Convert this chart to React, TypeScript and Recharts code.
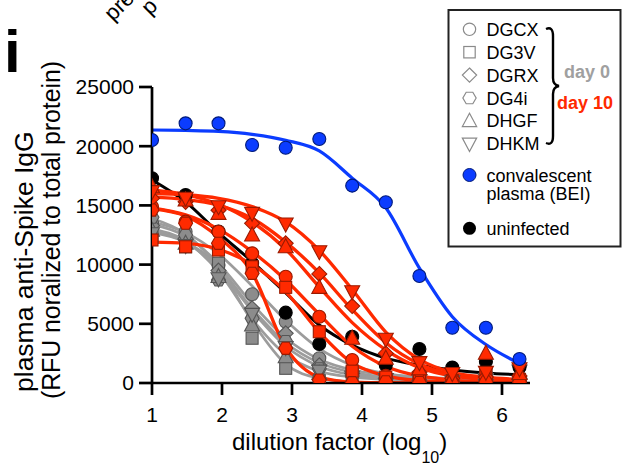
import React from "react";
import { ComposedChart, XAxis, YAxis, Line, Scatter } from "recharts";

// dilution factor (log10) positions
const X = [1, 1.48, 1.95, 2.43, 2.91, 3.39, 3.86, 4.34, 4.82, 5.29, 5.77, 6.25];
const X_TICKS = [1, 2, 3, 4, 5, 6];
const Y_TICKS = [0, 5000, 10000, 15000, 20000, 25000];

// measured points
const blue = [20520, 21930, 21930, 20100, 19870, 20610, 16670, 15260, 9040, 4670, 4670, 2030];
const black = [17290, 15880, 12800, 10110, 5940, 3290, 3900, 1500, 2870, 1300, 1800, 1330];

const rDGCX = [14890, 13630, 12780, 10950, 8980, 5600, 1940, 600, 300, 200, 250, 200];
const rDG3V = [12080, 11510, 11230, 9820, 8080, 4330, 1000, 500, 300, 200, 870, 300];
const rDGRX = [15600, 15300, 14600, 13490, 11800, 9210, 6500, 2500, 900, 400, 500, 600];
const rDG4i = [14610, 13500, 11800, 9260, 2930, 250, 30, 100, 50, 80, 100, 80];
const rDHGF = [16580, 15460, 14330, 12500, 11510, 8080, 3780, 2090, 1200, 400, 2510, 800];
const rDHKM = [16160, 15600, 14890, 14330, 13430, 11090, 7710, 3690, 1720, 800, 900, 1200];

const gDGCX = [13490, 12780, 9970, 7500, 5180, 2090, 1200, 600, 300, 200, 300, 200];
const gDG3V = [12300, 11500, 10110, 3780, 1240, 200, 100, 50, 100, 200, 800, 300];
const gDGRX = [13300, 12200, 9500, 6310, 4200, 1500, 800, 400, 200, 100, 300, 300];
const gDG4i = [14000, 12500, 8700, 5460, 3500, 1200, 600, 300, 200, 100, 200, 200];
const gDHGF = [12900, 11800, 9000, 4900, 2220, 800, 300, 200, 100, 100, 1200, 900];
const gDHKM = [12600, 11600, 8800, 5800, 3000, 1000, 500, 300, 200, 100, 300, 1000];

// fitted curves at the same positions
const fBlue = [21370, 21330, 21250, 21000, 20500, 19600, 17300, 14800, 9700, 5600, 3250, 1650];
const fBlack = [17150, 15300, 12700, 10250, 7600, 4900, 3200, 2100, 1500, 1100, 850, 700];

const fRDHKM = [16000, 15900, 15600, 14900, 13600, 11200, 7900, 4300, 2000, 900, 500, 300];
const fRDGRX = [15700, 15500, 15000, 13900, 11900, 9300, 6200, 3400, 1600, 700, 350, 200];
const fRDHGF = [16300, 15900, 15100, 13600, 11300, 8100, 5100, 2800, 1300, 600, 300, 150];
const fRDGCX = [14800, 14200, 13000, 11100, 8700, 5800, 3100, 1400, 600, 250, 100, 50];
const fRDG3V = [11900, 11800, 11300, 10000, 7700, 4300, 1700, 600, 200, 80, 30, 10];
const fRDG4i = [14700, 14100, 12300, 9300, 3000, 500, 80, 20, 0, 0, 0, 0];

const fGDGCX = [13600, 12700, 10900, 8200, 5300, 2900, 1500, 800, 500, 350, 300, 250];
const fGDG3V = [12700, 11900, 9800, 5200, 1600, 400, 100, 30, 10, 0, 0, 0];
const fGDGRX = [13400, 12400, 10100, 6700, 3800, 2000, 1100, 700, 500, 400, 350, 300];
const fGDG4i = [13900, 12600, 9900, 6300, 3400, 1700, 900, 500, 350, 300, 250, 250];
const fGDHGF = [13000, 12000, 9400, 5400, 2400, 1000, 500, 300, 200, 150, 150, 150];
const fGDHKM = [12800, 11900, 9600, 6100, 3100, 1400, 700, 400, 300, 250, 200, 200];

const SAMPLES = ["DGCX", "DG3V", "DGRX", "DG4i", "DHGF", "DHKM"];
const SHAPES = ["circle", "square", "diamond", "hexagon", "up", "down"];

const RED = "#ff2a00";
const RED_EDGE = "#9a1a00";
const GRAY = "#8c8c8c";
const GRAY_LINE = "#9c9c9c";
const GRAY_EDGE = "#555555";
const BLUE = "#0b3cff";
const BLUE_EDGE = "#001a7a";
const FONT = "'Liberation Sans', Arial, Helvetica, sans-serif";

const pts = (ys: number[]) => X.map((x, i) => ({ x, y: ys[i] }));

function markerEl(shape: string, cx: number, cy: number, fill: string, stroke: string, sw: number, k = 1) {
  const p = { fill, stroke, strokeWidth: sw };
  if (shape === "circle") return <circle cx={cx} cy={cy} r={6.5 * k} {...p} />;
  if (shape === "square") return <rect x={cx - 6 * k} y={cy - 6 * k} width={12 * k} height={12 * k} {...p} />;
  if (shape === "diamond") {
    const d = 7.5 * k;
    return <polygon points={`${cx},${cy - d} ${cx + d},${cy} ${cx},${cy + d} ${cx - d},${cy}`} {...p} />;
  }
  if (shape === "hexagon") {
    const r = 7 * k;
    const a = [];
    for (const deg of [0, 60, 120, 180, 240, 300]) {
      const t = (deg * Math.PI) / 180;
      a.push(`${cx + r * Math.cos(t)},${cy + r * Math.sin(t)}`);
    }
    return <polygon points={a.join(" ")} {...p} />;
  }
  const h = 7 * k;
  if (shape === "up")
    return <polygon points={`${cx},${cy - h - 1} ${cx + h + 0.5},${cy + h - 1} ${cx - h - 0.5},${cy + h - 1}`} {...p} />;
  return <polygon points={`${cx},${cy + h + 1} ${cx + h + 0.5},${cy - h + 1} ${cx - h - 0.5},${cy - h + 1}`} {...p} />;
}

const shapeFn = (shape: string, fill: string, stroke: string) => (props: any) => (
  <g>{markerEl(shape, props.cx, props.cy, fill, stroke, 1.1)}</g>
);

const redSets = [rDGCX, rDG3V, rDGRX, rDG4i, rDHGF, rDHKM];
const graySets = [gDGCX, gDG3V, gDGRX, gDG4i, gDHGF, gDHKM];
const redFits = [fRDGCX, fRDG3V, fRDGRX, fRDG4i, fRDHGF, fRDHKM];
const grayFits = [fGDGCX, fGDG3V, fGDGRX, fGDG4i, fGDHGF, fGDHKM];

export default function App() {
  const legendY = [29.3, 52.2, 75.1, 98, 120.9, 143.8];
  return (
    <div style={{ position: "absolute", left: 0, top: 0, width: 624, height: 467, background: "#fff", fontFamily: FONT }}>
      <ComposedChart width={624} height={467} margin={{ top: 87, right: 94, bottom: 54, left: 0 }}>
        <XAxis
          type="number"
          dataKey="x"
          domain={[1, 6.4]}
          ticks={X_TICKS}
          allowDataOverflow
          height={30}
          axisLine={{ stroke: "#000", strokeWidth: 2.7 }}
          tickLine={{ stroke: "#000", strokeWidth: 2.7 }}
          tickSize={12}
          tickMargin={12}
          tick={{ fill: "#000", fontSize: 21, fontFamily: FONT }}
        />
        <YAxis
          type="number"
          dataKey="y"
          domain={[0, 25000]}
          ticks={Y_TICKS}
          allowDataOverflow
          width={152}
          axisLine={{ stroke: "#000", strokeWidth: 2.7 }}
          tickLine={{ stroke: "#000", strokeWidth: 2.7 }}
          tickSize={13}
          tickMargin={5}
          tick={{ fill: "#000", fontSize: 21, fontFamily: FONT }}
        />
        {grayFits.map((f, i) => (
          <Line key={"gl" + i} data={pts(f)} dataKey="y" type="monotone" dot={false} stroke={GRAY_LINE} strokeWidth={2.7} isAnimationActive={false} />
        ))}
        {graySets.map((s, i) => (
          <Scatter key={"gs" + i} data={pts(s)} shape={shapeFn(SHAPES[i], GRAY, GRAY_EDGE)} isAnimationActive={false} />
        ))}
        <Line data={pts(fBlack)} dataKey="y" type="monotone" dot={false} stroke="#000" strokeWidth={3} isAnimationActive={false} />
        <Scatter data={pts(black)} shape={shapeFn("circle", "#000", "#000")} isAnimationActive={false} />
        {redFits.map((f, i) => (
          <Line key={"rl" + i} data={pts(f)} dataKey="y" type="monotone" dot={false} stroke={RED} strokeWidth={3.3} isAnimationActive={false} />
        ))}
        {redSets.map((s, i) => (
          <Scatter key={"rs" + i} data={pts(s)} shape={shapeFn(SHAPES[i], RED, RED_EDGE)} isAnimationActive={false} />
        ))}
        <Line data={pts(fBlue)} dataKey="y" type="monotone" dot={false} stroke={BLUE} strokeWidth={3.2} isAnimationActive={false} />
        <Scatter data={pts(blue)} shape={shapeFn("circle", BLUE, BLUE_EDGE)} isAnimationActive={false} />
      </ComposedChart>

      <svg width={624} height={467} style={{ position: "absolute", left: 0, top: 0, pointerEvents: "none" }} fontFamily={FONT}>
        <text x={4} y={72} fontSize={60} fontWeight="bold" fill="#000">i</text>
        <text transform="translate(113,22) rotate(-45)" fontSize={22} fill="#000">pre</text>
        <text transform="translate(150,16) rotate(-45)" fontSize={22} fill="#000">p</text>

        <text transform="translate(33,392) rotate(-90)" fontSize={26.5} fill="#000">plasma anti-Spike IgG</text>
        <text transform="translate(60,399) rotate(-90)" fontSize={25} fill="#000" textLength={338} lengthAdjust="spacing">(RFU noralized to total protein)</text>

        <text x={232} y={450} fontSize={24} fill="#000">
          dilution factor (log
          <tspan fontSize={16} dy={13}>10</tspan>
          <tspan dy={-13}>)</tspan>
        </text>

        <rect x={448.5} y={10} width={172} height={236.5} fill="none" stroke="#222" strokeWidth={2} />
        {SAMPLES.map((name, i) => (
          <g key={name}>
            {markerEl(SHAPES[i], 469.5, legendY[i], "#fff", "#8a8a8a", 1.2, 0.95)}
            <text x={486.5} y={legendY[i] + 6.5} fontSize={18} fill="#000">{name}</text>
          </g>
        ))}
        <path d="M546,29 Q553,26 553,36 L553,78 Q553,85 559,86 Q553,87 553,94 L553,136 Q553,146 546,143" fill="none" stroke="#000" strokeWidth={2.4} />
        <text x={564} y={77.5} fontSize={18} fontWeight="bold" fill="#a0a0a0">day 0</text>
        <text x={557} y={108.5} fontSize={18} fontWeight="bold" fill={RED}>day 10</text>

        <circle cx={469.5} cy={175} r={6.5} fill={BLUE} stroke={BLUE_EDGE} strokeWidth={1} />
        <text x={486.5} y={181.5} fontSize={18} fill="#000">convalescent</text>
        <text x={486.5} y={199.8} fontSize={18} fill="#000">plasma (BEI)</text>
        <circle cx={469.5} cy={228.3} r={6.5} fill="#000" />
        <text x={486.5} y={234.8} fontSize={18} fill="#000">uninfected</text>
      </svg>
    </div>
  );
}
